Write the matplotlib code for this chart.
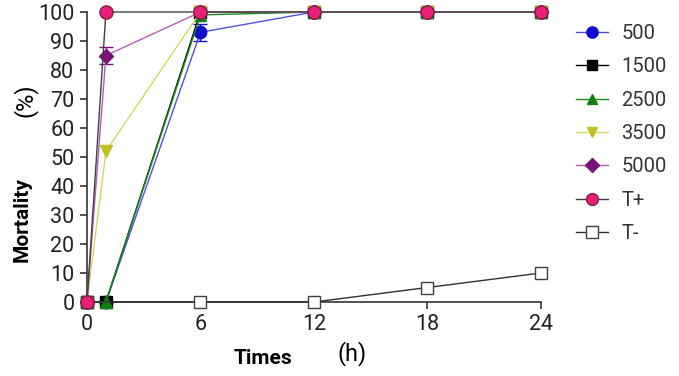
import matplotlib
matplotlib.use("Agg")
import matplotlib.pyplot as plt
from matplotlib.lines import Line2D

plt.rcParams['font.family'] = ['Roboto', 'DejaVu Sans']

times = [0, 1, 6, 12, 18, 24]
labels = ["500", "1500", "2500", "3500", "5000", "T+", "T-"]
s500 = [0, 0, 93, 100, 100, 100]
s500_err = [0, 0, 3, 0, 0, 0]
s1500 = [0, 0, 100, 100, 100, 100]
s2500 = [0, 0, 99, 100, 100, 100]
s3500 = [0, 52, 100, 100, 100, 100]
s5000 = [0, 85, 100, 100, 100, 100]
s5000_err = [0, 3, 0, 0, 0, 0]
tplus = [0, 100, 100, 100, 100, 100]
tminus_t = [0, 6, 12, 18, 24]
tminus = [0, 0, 0, 5, 10]

fig = plt.figure(figsize=(6.79, 3.76), dpi=100)
ax = fig.add_axes([87/679, (376-302)/376, (541-87)/679, (302-12)/376])

styles = [
    (times, s500, s500_err, dict(color='#5050e0', marker='o', mfc='#1010d0', mec='#1010d0', ms=9), 3),
    (times, s1500, None, dict(color='#000000', marker='s', mfc='#000000', mec='#000000', ms=8), 4),
    (times, s2500, None, dict(color='#1a8a1a', marker='^', mfc='#108010', mec='#108010', ms=8), 5),
    (times, s3500, None, dict(color='#d8d860', marker='v', mfc='#c0c020', mec='#c0c020', ms=8), 6),
    (times, s5000, s5000_err, dict(color='#b060b0', marker='D', mfc='#7a107a', mec='#7a107a', ms=7.5), 7),
    (times, tplus, None, dict(color='#404040', marker='o', mfc='#e8207a', mec='#802040', ms=9.5), 9),
    (tminus_t, tminus, None, dict(color='#303030', marker='s', mfc='white', mec='#404040', ms=9), 8),
]

handles = []
for (x, y, err, st, z), lab in zip(styles, labels):
    if err is not None:
        ax.errorbar(x, y, yerr=err, color=st['color'], marker=st['marker'], mfc=st['mfc'],
                    mec=st['mec'], ms=st['ms'], lw=1.0, ecolor=st['mec'], capsize=5,
                    clip_on=False, zorder=z)
    else:
        ax.plot(x, y, color=st['color'], marker=st['marker'], mfc=st['mfc'], mec=st['mec'],
                ms=st['ms'], lw=1.0, clip_on=False, zorder=z)
    handles.append(Line2D([], [], color=st['color'], marker=st['marker'], mfc=st['mfc'],
                          mec=st['mec'], ms=st['ms'] * 0.9, lw=1.0))

ax.set_xlim(0, 24)
ax.set_ylim(0, 100)
ax.set_xticks([0, 6, 12, 18, 24])
ax.set_yticks(range(0, 101, 10))
ax.spines['top'].set_visible(False)
ax.spines['right'].set_visible(False)
for sp in ['left', 'bottom']:
    ax.spines[sp].set_color('#333333')
    ax.spines[sp].set_linewidth(1.2)
ax.tick_params(labelsize=15.5, length=5, width=1.2, colors='#333333', labelcolor='#222222', pad=4)

fig.text(22/679, 1 - 220/376, "Mortality", rotation=90, fontsize=15, fontweight='bold', ha='center', va='center')
fig.text(25/679, 1 - 100/376, "(%)", rotation=90, fontsize=17, ha='center', va='center')
fig.text(263/679, 1 - 358/376, "Times", fontsize=15, fontweight='bold', ha='center', va='center')
fig.text(352/679, 1 - 354/376, "(h)", fontsize=17, ha='center', va='center')

fig.legend(handles=handles, labels=labels, loc='upper left', bbox_to_anchor=(568/679, 1 - 16/376),
           frameon=False, fontsize=14.5, labelspacing=0.71, handlelength=1.6, handletextpad=0.65,
           labelcolor='#333333', borderaxespad=0)

fig.savefig("out.png", dpi=100)
